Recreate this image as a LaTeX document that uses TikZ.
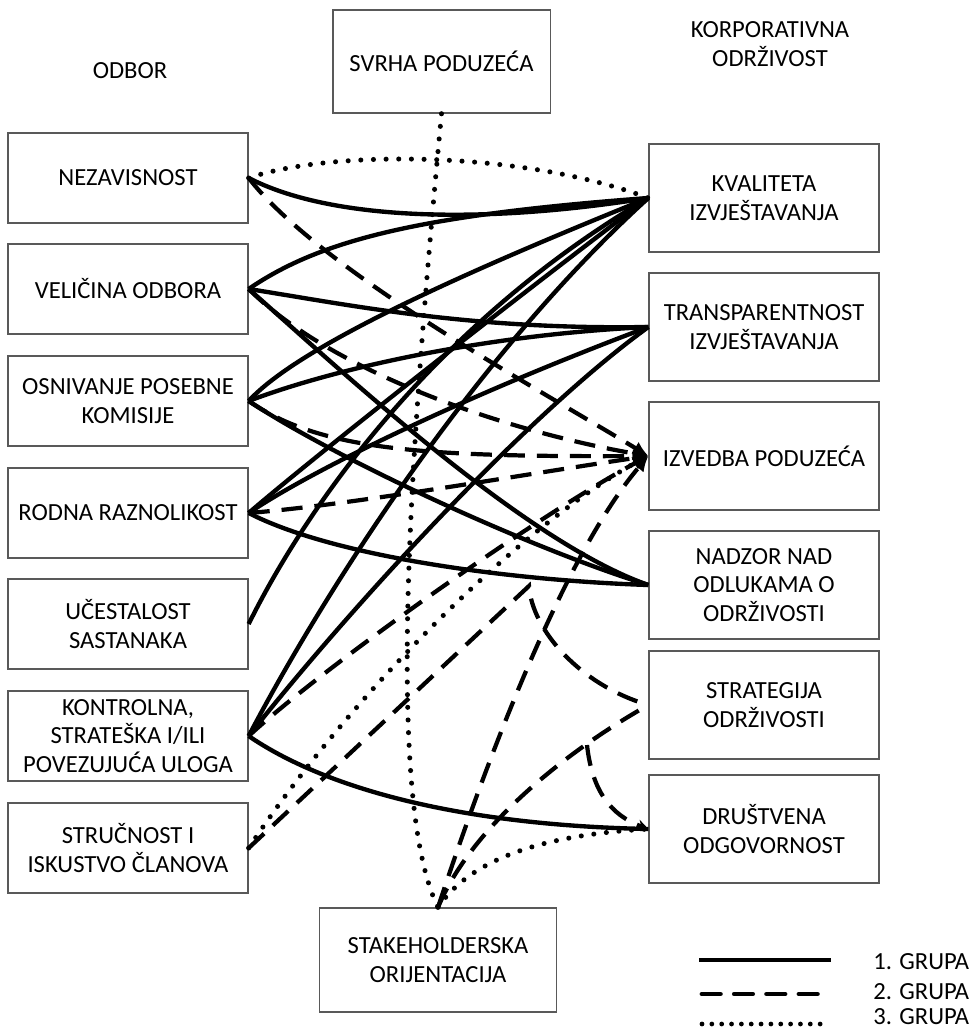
\documentclass[tikz,border=0pt]{standalone}
\usepackage{fontspec}
\setmainfont{Carlito}
\usetikzlibrary{arrows.meta}

\begin{document}
\begin{tikzpicture}[x=0.025cm,y=-0.025cm,
    font=\fontsize{17.5}{20.5}\selectfont,
    kutija/.style={draw=black!65,line width=0.9pt,align=center,inner sep=2pt},
    lijevo/.style={kutija,minimum width=6cm,minimum height=2.25cm},
    desno/.style={kutija,minimum width=5.75cm,minimum height=2.7cm},
    grupa1/.style={line width=3.1pt},
    grupa2/.style={line width=3pt,dash pattern=on 15pt off 8.5pt},
    grupa3/.style={line width=3.6pt,line cap=round,dash pattern=on 0pt off 9pt},
    vrh/.style={-{Latex[length=11pt,width=10pt]}}]

        \useasboundingbox (0,0) rectangle (975,1030);

        % naslovi
        \node (odbor) at (130,71) {ODBOR};
        \node[align=center] (korp) at (770,44) {KORPORATIVNA\\ODRŽIVOST};

        % odbor
        \foreach \ime/\y/\tekst in {nez/178/{NEZAVISNOST}, vel/289/{VELIČINA ODBORA},
            osn/401/{OSNIVANJE POSEBNE\\KOMISIJE}, rod/513/{RODNA RAZNOLIKOST},
            uce/624/{UČESTALOST\\SASTANAKA}, kon/736/{KONTROLNA,\\STRATEŠKA I/ILI\\POVEZUJUĆA ULOGA},
            str/848/{STRUČNOST I\\ISKUSTVO ČLANOVA}} {
          \node[lijevo] (\ime) at (128,\y) {\tekst};
        }

        % korporativna odrzivost
        \foreach \ime/\y/\tekst in {kva/198/{KVALITETA\\IZVJEŠTAVANJA}, tra/327/{TRANSPARENTNOST\\IZVJEŠTAVANJA},
            izv/456/{IZVEDBA PODUZEĆA}, nad/585/{NADZOR NAD\\ODLUKAMA O\\ODRŽIVOSTI},
            stg/705/{STRATEGIJA\\ODRŽIVOSTI}, dru/829/{DRUŠTVENA\\ODGOVORNOST}} {
          \node[desno] (\ime) at (764,\y) {\tekst};
        }

        \node[kutija,minimum width=5.43cm,minimum height=2.58cm] (svr) at (441.5,61.5) {SVRHA PODUZEĆA};
        \node[kutija,minimum width=5.93cm,minimum height=2.6cm] (stk) at (438,960) {STAKEHOLDERSKA\\ORIJENTACIJA};

        % 1. grupa
        \draw[grupa1] (nez.east) .. controls (330,220) and (480,225) .. (kva.west);
        \draw[grupa1] (vel.east) .. controls (320,240) and (420,215) .. (kva.west);
        \draw[grupa1] (vel.east) .. controls (350,305) and (470,330) .. (tra.west);
        \draw[grupa1] (vel.east) .. controls (330,360) and (520,540) .. (nad.west);
        \draw[grupa1] (osn.east) .. controls (300,345) and (470,270) .. (kva.west);
        \draw[grupa1] (osn.east) .. controls (330,370) and (480,335) .. (tra.west);
        \draw[grupa1] (osn.east) .. controls (330,455) and (520,545) .. (nad.west);
        \draw[grupa1] (rod.east) .. controls (310,460) and (500,310) .. (kva.west);
        \draw[grupa1] (rod.east) .. controls (320,465) and (480,390) .. (tra.west);
        \draw[grupa1] (rod.east) .. controls (330,555) and (500,580) .. (nad.west);
        \draw[grupa1] (uce.east) .. controls (310,500) and (440,320) .. (kva.west);
        \draw[grupa1] (kon.east) .. controls (320,600) and (470,360) .. (kva.west);
        \draw[grupa1] (kon.east) .. controls (340,620) and (520,420) .. (tra.west);
        \draw[grupa1] (kon.east) .. controls (320,785) and (450,825) .. (dru.west);

        % 2. grupa
        \coordinate (ap1) at (529,586);
        \coordinate (ap2) at (587,745);
        \draw[grupa2,vrh] (nez.east) .. controls (320,270) and (540,390) .. (izv.west);
        \draw[grupa2,vrh] (vel.east) .. controls (330,370) and (500,430) .. (izv.west);
        \draw[grupa2,vrh] (osn.east) .. controls (320,450) and (420,457) .. (izv.west);
        \draw[grupa2,vrh] (rod.east) .. controls (350,505) and (520,475) .. (izv.west);
        \draw[grupa2,vrh] (kon.east) .. controls (320,670) and (530,520) .. (izv.west);
        \draw[grupa2,vrh] (stk.north) .. controls (480,780) and (560,560) .. (izv.west);
        \draw[grupa2] (str.east) -- (ap1) .. controls (532,630) and (580,685) .. (stg.west);
        \draw[grupa2] (stk.north) .. controls (470,830) and (560,755) .. (stg.west);
        \draw[grupa2,-{Stealth[length=8pt,width=8pt,open]}] (ap2) .. controls (592,790) and (610,815) .. (dru.west);

        % 3. grupa
        \draw[grupa3] (nez.east) .. controls (330,150) and (520,150) .. (kva.west);
        \draw[grupa3] (svr.south) .. controls (410,450) and (385,800) .. (stk.north);
        \draw[grupa3] (str.east) .. controls (360,680) and (540,510) .. (izv.west);
        \draw[grupa3] (stk.north) .. controls (470,860) and (540,835) .. (dru.west);

        % legenda
        \draw[grupa1,line width=3.5pt] (699,960) -- (831,960);
        \draw[line width=3.5pt,line cap=round,dash pattern=on 13pt off 10pt] (702,994) -- (822,994);
        \draw[grupa3,line width=3.4pt,dash pattern=on 0pt off 7pt] (702,1024) -- (822,1024);
        \node[anchor=west,inner sep=0pt] (g1) at (873,962) {1. GRUPA};
        \node[anchor=west,inner sep=0pt] (g2) at (873,992) {2. GRUPA};
        \node[anchor=west,inner sep=0pt] (g3) at (873,1017) {3. GRUPA};
      \end{tikzpicture}
\end{document}
